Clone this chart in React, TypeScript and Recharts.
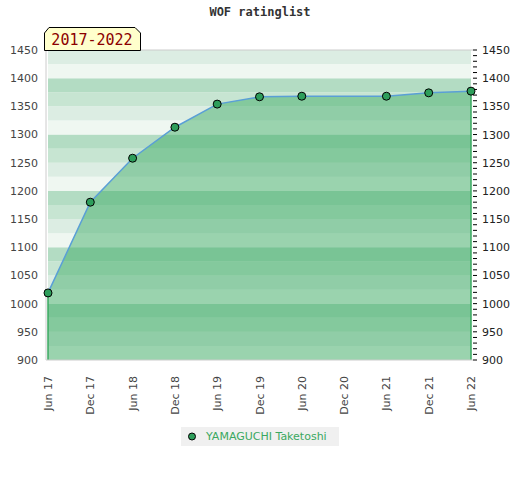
import { AreaChart, Area, XAxis, YAxis, ReferenceArea, ReferenceLine } from "recharts";

// months since Jun 2017
const months = [0, 6, 12, 18, 24, 30, 36, 48, 54, 60];
const ratings = [1019, 1180, 1258, 1313, 1354, 1367, 1368, 1368, 1374, 1377];
const xTicks = [0, 6, 12, 18, 24, 30, 36, 42, 48, 54, 60];
const xTickLabels = ["Jun 17", "Dec 17", "Jun 18", "Dec 18", "Jun 19", "Dec 19", "Jun 20", "Dec 20", "Jun 21", "Dec 21", "Jun 22"];
const yTicks = [900, 950, 1000, 1050, 1100, 1150, 1200, 1250, 1300, 1350, 1400, 1450];
const playerName = "YAMAGUCHI Taketoshi";
const periodLabel = "2017-2022";

const data = months.map((m, i) => ({ month: m, rating: ratings[i] }));

// background stripes, 4 per 100 points, darkest at top of each block
const stripeColors = ["#b3dcc3", "#c7e5d2", "#dcede3", "#eff7f1"];
const stripes: { y1: number; y2: number; fill: string }[] = [];
for (let v = 900; v < 1450; v += 25) {
  const q = 3 - Math.floor((v % 100) / 25);
  stripes.push({ y1: v, y2: v + 25, fill: stripeColors[q] });
}

const minorTicks: number[] = [];
for (let v = 900; v <= 1450; v += 10) minorTicks.push(v);

const XTick = (props: any) => {
  const { x, y, payload } = props;
  const idx = xTicks.indexOf(payload.value);
  return (
    <g transform={`translate(${x},${y})`}>
      <text transform="rotate(-90)" x={-8} y={4} textAnchor="end" fontSize={11} fill="#444">
        {xTickLabels[idx]}
      </text>
    </g>
  );
};

const RightTick = (props: any) => {
  const { x, y, payload } = props;
  if (payload.value % 50 !== 0) return <g />;
  return (
    <text x={x} y={y + 4} fontSize={11} fill="#222" textAnchor="start">
      {payload.value}
    </text>
  );
};

export default function App() {
  const last = months.length - 1;
  return (
    <div style={{ position: "absolute", left: 0, top: 0, width: 520, height: 480, background: "#fff", fontFamily: "DejaVu Sans" }}>
      <div style={{ position: "absolute", top: 5, width: 520, textAlign: "center", fontFamily: "DejaVu Sans Mono", fontWeight: "bold", fontSize: 12, color: "#333" }}>
        WOF ratinglist
      </div>
      <AreaChart width={520} height={480} data={data} margin={{ top: 50, right: 0, bottom: 0, left: 0 }}>
        {stripes.map((s) => (
          <ReferenceArea key={s.y1} yAxisId="left" y1={s.y1} y2={s.y2} fill={s.fill} fillOpacity={1} stroke="none" />
        ))}
        <XAxis
          dataKey="month"
          type="number"
          domain={[0, 60]}
          ticks={xTicks}
          padding={{ left: 2, right: 2 }}
          height={120}
          tick={<XTick />}
          tickLine={false}
          axisLine={{ stroke: "#ccc" }}
        />
        <YAxis
          yAxisId="left"
          domain={[900, 1450]}
          ticks={yTicks}
          width={46}
          tickLine={false}
          tickSize={0}
          tickMargin={8}
          axisLine={{ stroke: "#ccc" }}
          tick={{ fontSize: 11, fill: "#444" }}
        />
        <YAxis
          yAxisId="right"
          orientation="right"
          type="number"
          domain={[900, 1450]}
          allowDataOverflow
          ticks={minorTicks}
          interval={0}
          width={47}
          axisLine={false}
          tickLine={{ stroke: "#000" }}
          tickSize={4}
          tickMargin={5}
          tick={<RightTick />}
        />
        <ReferenceLine yAxisId="right" y={1450} stroke="#ccc" />
        <Area
          yAxisId="right"
          dataKey="rating"
          type="linear"
          stroke="none"
          fill="none"
          dot={false}
          activeDot={false}
          isAnimationActive={false}
        />
        <Area
          yAxisId="left"
          dataKey="rating"
          type="linear"
          stroke="#5a9fd6"
          strokeWidth={1.5}
          fill="#34a75d"
          fillOpacity={0.45}
          dot={{ r: 4, fill: "#2e9e5b", stroke: "#000", strokeWidth: 1, fillOpacity: 1 }}
          activeDot={false}
          isAnimationActive={false}
        />
        <ReferenceLine
          yAxisId="left"
          segment={[{ x: months[0], y: 900 }, { x: months[0], y: ratings[0] }]}
          stroke="#3aa860"
          strokeWidth={1.5}
        />
        <ReferenceLine
          yAxisId="left"
          segment={[{ x: months[last], y: 900 }, { x: months[last], y: ratings[last] }]}
          stroke="#3aa860"
          strokeWidth={1.5}
        />
      </AreaChart>
      <svg style={{ position: "absolute", left: 44, top: 27 }} width={98} height={25}>
        <polygon points="0.5,6 5,0.5 91,0.5 96.5,6 96.5,23.5 0.5,23.5" fill="#ffffcc" stroke="#000" strokeWidth={1} />
        <text x={48} y={18} textAnchor="middle" fontFamily="DejaVu Sans Mono" fontSize={15} fill="#8b0000">
          {periodLabel}
        </text>
      </svg>
      <div style={{ position: "absolute", left: 181, top: 427, width: 158, height: 19, background: "#f0f0f0", display: "flex", alignItems: "center" }}>
        <svg width={25} height={19}>
          <circle cx={11} cy={9.5} r={3.5} fill="#2e9e5b" stroke="#000" strokeWidth={1} />
        </svg>
        <span style={{ fontSize: 11, color: "#3aa860" }}>{playerName}</span>
      </div>
    </div>
  );
}
